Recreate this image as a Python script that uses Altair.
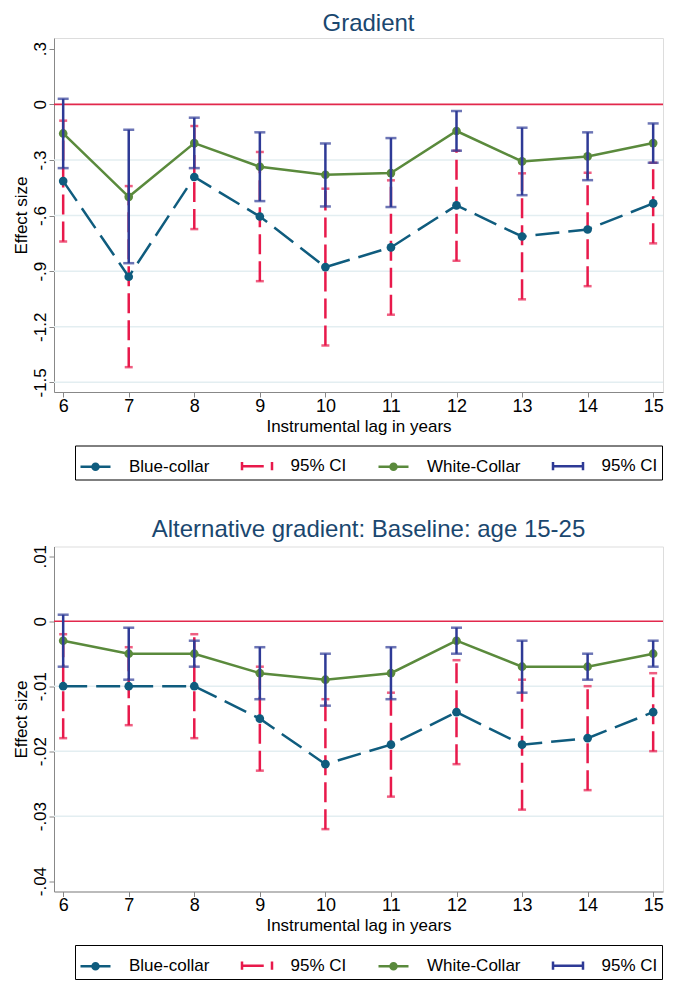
import altair as alt
import pandas as pd

# ---------------- data ----------------
lags = [6, 7, 8, 9, 10, 11, 12, 13, 14, 15]

# Panel 1: Gradient
g_blue = [-0.414, -0.930, -0.392, -0.605, -0.878, -0.772, -0.545, -0.713, -0.675, -0.534]
g_blue_lo = [-0.740, -1.418, -0.673, -0.954, -1.301, -1.135, -0.844, -1.052, -0.981, -0.750]
g_blue_hi = [-0.088, -0.441, -0.117, -0.257, -0.455, -0.410, -0.250, -0.372, -0.369, -0.315]
g_white = [-0.157, -0.499, -0.209, -0.337, -0.380, -0.371, -0.144, -0.308, -0.281, -0.209]
g_white_lo = [-0.344, -0.857, -0.344, -0.522, -0.551, -0.554, -0.250, -0.490, -0.409, -0.315]
g_white_hi = [0.030, -0.137, -0.072, -0.151, -0.211, -0.182, -0.036, -0.126, -0.151, -0.103]
g_ticks = [0.3, 0, -0.3, -0.6, -0.9, -1.2, -1.5]
g_grid = [-0.3, -0.6, -0.9, -1.2, -1.5]

# Panel 2: Alternative gradient
a_blue = [-0.010, -0.010, -0.010, -0.015, -0.022, -0.019, -0.014, -0.019, -0.018, -0.014]
a_blue_lo = [-0.018, -0.016, -0.018, -0.023, -0.032, -0.027, -0.022, -0.029, -0.026, -0.020]
a_blue_hi = [-0.002, -0.004, -0.002, -0.007, -0.012, -0.011, -0.006, -0.009, -0.010, -0.008]
a_white = [-0.003, -0.005, -0.005, -0.008, -0.009, -0.008, -0.003, -0.007, -0.007, -0.005]
a_white_lo = [-0.007, -0.009, -0.007, -0.012, -0.013, -0.012, -0.005, -0.011, -0.009, -0.007]
a_white_hi = [0.001, -0.001, -0.003, -0.004, -0.005, -0.004, -0.001, -0.003, -0.005, -0.003]
a_ticks = [0.01, 0, -0.01, -0.02, -0.03, -0.04]
a_grid = [-0.01, -0.02, -0.03]

series_names = ["Blue-collar", "95% CI", "White-Collar", "95% CI "]

# ---------------- style ----------------
FONT = "Liberation Sans"
TEAL = "#0f5c7e"
RED = "#e8194b"
GREEN = "#5a8a3c"
NAVY = "#2e3a96"
REF = "#e2284c"
GRID = "#e3eef1"
TITLE = "#1a476f"

DOT = ("M-1,0H1M-0.2,0A0.2,0.2,0,1,1,0.2,0A0.2,0.2,0,1,1,-0.2,0"
       "M-0.07,0A0.07,0.07,0,1,1,0.07,0A0.07,0.07,0,1,1,-0.07,0")
CAP_DASH = "M-1,0H0.45M-1,-0.28V0.28M1,-0.28V0.28"
CAP = "M-1,0H1M-1,-0.28V0.28M1,-0.28V0.28"
series_colors = [TEAL, RED, GREEN, NAVY]
series_shapes = [DOT, CAP_DASH, DOT, CAP]

W = 609


def panel(title, blue, blo, bhi, white, wlo, whi, ydom, yticks, grid_vals, h, legy):
    df = pd.DataFrame({"lag": lags, "blue": blue, "blo": blo, "bhi": bhi,
                       "white": white, "wlo": wlo, "whi": whi})
    xsc = alt.Scale(domain=[5.86, 15.15], nice=False, zero=False)
    ysc = alt.Scale(domain=ydom, nice=False, zero=False)
    xaxis = alt.Axis(values=lags, title="Instrumental lag in years", grid=False,
                     tickSize=5, labelFontSize=18, titleFontSize=17, labelPadding=0,
                     titlePadding=3, labelFlush=False, labelOverlap=False,
                     titleFontWeight="normal", labelFont=FONT, titleFont=FONT)
    yaxis = alt.Axis(values=yticks, title="Effect size", grid=False, tickSize=5,
                     labelAngle=270, labelFontSize=17, titleFontSize=17,
                     labelPadding=0, titlePadding=1, labelOverlap=False,
                     titleFontWeight="normal", labelFont=FONT, titleFont=FONT,
                     labelExpr="datum.value == 0 ? '0' : replace(toString(datum.value), '0.', '.')")
    X = alt.X("lag:Q", scale=xsc, axis=xaxis)

    def Y(f):
        return alt.Y(f + ":Q", scale=ysc, axis=yaxis)

    base = alt.Chart(df)
    grid = alt.Chart(pd.DataFrame({"g": grid_vals})).mark_rule(
        color=GRID, strokeWidth=1.5).encode(y=Y("g"))
    ref = alt.Chart(pd.DataFrame({"r": [0]})).mark_rule(
        color=REF, strokeWidth=1.6).encode(y=Y("r"))

    red_rule = base.mark_rule(color=RED, strokeWidth=2.5, strokeDash=[20, 7]).encode(
        x=X, y=Y("blo"), y2="bhi:Q")
    red_lo = base.mark_tick(orient="horizontal", color=RED, size=8, thickness=2.5).encode(x=X, y=Y("blo"))
    red_hi = base.mark_tick(orient="horizontal", color=RED, size=8, thickness=2.5).encode(x=X, y=Y("bhi"))

    blue_line = base.mark_line(color=TEAL, strokeWidth=2.5, strokeDash=[24, 9]).encode(x=X, y=Y("blue"))
    blue_pts = base.mark_circle(color=TEAL, size=75, opacity=1).encode(x=X, y=Y("blue"))

    white_line = base.mark_line(color=GREEN, strokeWidth=2.5).encode(x=X, y=Y("white"))
    white_pts = base.mark_circle(color=GREEN, size=75, opacity=1).encode(x=X, y=Y("white"))

    nv_rule = base.mark_rule(color=NAVY, strokeWidth=2.5).encode(x=X, y=Y("wlo"), y2="whi:Q")
    nv_lo = base.mark_tick(orient="horizontal", color=NAVY, size=11, thickness=2.5).encode(x=X, y=Y("wlo"))
    nv_hi = base.mark_tick(orient="horizontal", color=NAVY, size=11, thickness=2.5).encode(x=X, y=Y("whi"))

    leg = alt.Legend(orient="none", legendX=21, legendY=legy, direction="horizontal",
                     title=None, strokeColor="black", padding=4, symbolSize=900,
                     symbolStrokeWidth=2.5, labelFontSize=17, labelFont=FONT,
                     labelColor="black", labelOffset=17, columnPadding=26.5,
                     cornerRadius=0, labelLimit=300)
    legdf = pd.DataFrame({"series": series_names, "lag": [6] * 4, "v": [None] * 4})
    legend_layer = alt.Chart(legdf).mark_point(filled=False, strokeWidth=2.5, opacity=1).encode(
        x=X, y=Y("v"),
        color=alt.Color("series:N", scale=alt.Scale(domain=series_names, range=series_colors), legend=leg),
        shape=alt.Shape("series:N", scale=alt.Scale(domain=series_names, range=series_shapes), legend=leg),
    )

    return alt.layer(grid, ref, red_rule, red_lo, red_hi, blue_line, blue_pts,
                     white_line, white_pts, nv_rule, nv_lo, nv_hi, legend_layer).properties(
        width=W, height=h,
        title=alt.TitleParams(title, fontSize=24, color=TITLE, font=FONT, fontWeight="normal",
                              anchor="middle", frame="group", dx=10, offset=2))


top = panel("Gradient", g_blue, g_blue_lo, g_blue_hi, g_white, g_white_lo, g_white_hi,
            [-1.552, 0.358], g_ticks, g_grid, 354, 407.5)
bottom = panel("Alternative gradient: Baseline: age 15-25", a_blue, a_blue_lo, a_blue_hi,
               a_white, a_white_lo, a_white_hi, [-0.0416, 0.0115], a_ticks, a_grid, 345, 398.5)

chart = alt.vconcat(top, bottom, spacing=36.5).resolve_scale(
    color="independent", shape="independent"
).resolve_legend(color="independent", shape="independent").properties(
    padding={"left": 3, "top": 3, "right": 0, "bottom": 0}
).configure_view(stroke=None).configure_axis(
    labelFont=FONT, titleFont=FONT, labelColor="black", titleColor="black",
    domainColor="black", tickColor="black", titleFontWeight="normal",
    domainWidth=1, tickWidth=1
).configure(background="white")

chart.save("out.html", embed_options={"renderer": "svg", "actions": False})
